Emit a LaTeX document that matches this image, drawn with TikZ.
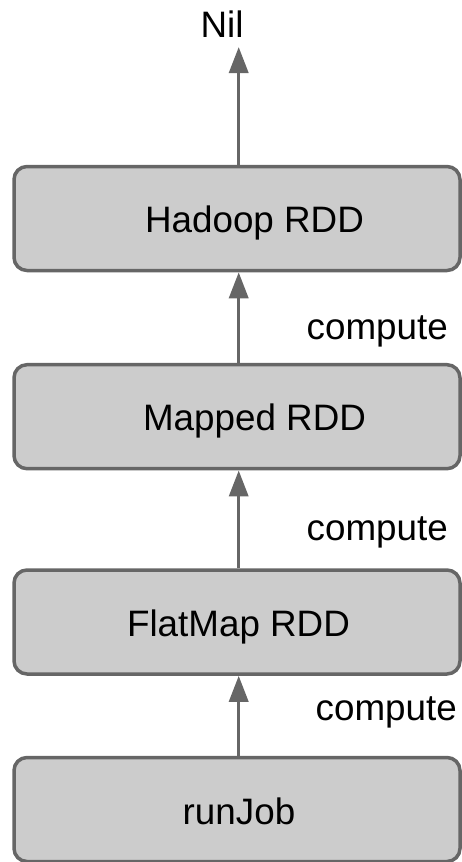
\documentclass[tikz,border=0pt]{standalone}
\usepackage{fontspec}
\setmainfont{Liberation Sans}
\usetikzlibrary{arrows.meta}
\definecolor{boxfill}{HTML}{CCCCCC}
\definecolor{edge}{HTML}{666666}
\begin{document}
\begin{tikzpicture}[x=1pt,y=-1pt,
  font=\fontsize{36.8}{44}\selectfont,
  rddbox/.style={draw=edge, fill=boxfill, line width=3.5pt, rounded corners=13pt,
    minimum width=446pt, minimum height=104pt, inner sep=0pt},
  txt/.style={inner sep=0pt, anchor=base, text=black},
  lbl/.style={inner sep=0pt, anchor=base west, text=black},
  arr/.style={draw=edge, line width=3.5pt, -{Triangle[width=19pt,length=26pt]}}]
\useasboundingbox (0,0) rectangle (461,862);
\coordinate (ax) at (238.7,0);
% boxes
\node[rddbox] (hadoop) at (237,218.5) {};
\node[rddbox] (mapped) at (237,416.7) {};
\node[rddbox] (flatmap) at (237,622) {};
\node[rddbox] (runjob) at (237,809.5) {};
% box texts
\node[txt] (thadoop) at (254.5,232) {Hadoop RDD};
\node[txt] (tmapped) at (254.5,430) {Mapped RDD};
\node[txt] (tflatmap) at (238.5,636.7) {FlatMap RDD};
\node[txt] (trunjob) at (239,824) {runJob};
% Nil
\node[txt] (nil) at (222,37) {Nil};
\coordinate (niltip) at (238.7,47);
% arrows
\draw[arr] (hadoop.north -| ax) -- (niltip);
\draw[arr] (mapped.north -| ax) -- (hadoop.south -| ax);
\draw[arr] (flatmap.north -| ax) -- (mapped.south -| ax);
\draw[arr] (runjob.north -| ax) -- (flatmap.south -| ax);
% labels
\node[lbl] (c1) at (306.5,339) {compute};
\node[lbl] (c2) at (306.5,540) {compute};
\node[lbl] (c3) at (315.5,720) {compute};
\end{tikzpicture}
\end{document}
